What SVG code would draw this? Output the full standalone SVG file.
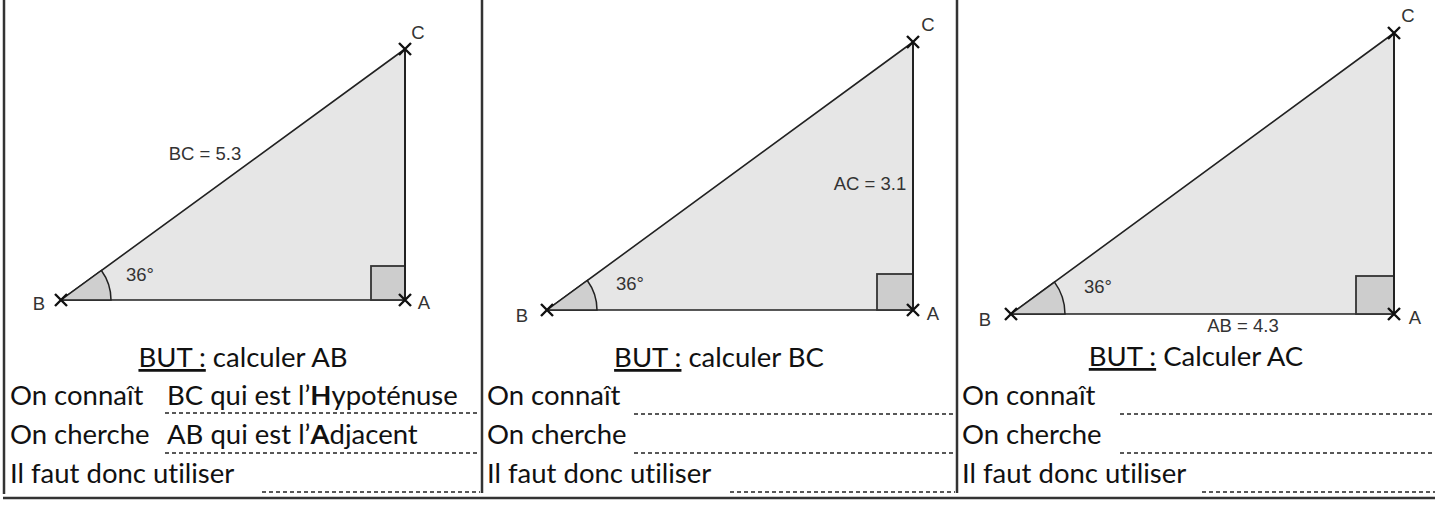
<svg xmlns="http://www.w3.org/2000/svg" width="1435" height="506" viewBox="0 0 1435 506">
<style>
.frame{stroke:#333;stroke-width:2.5;fill:none}
.tri{fill:#e6e6e6;stroke:#222;stroke-width:1.6;stroke-linejoin:round}
.leg{stroke:#222;stroke-width:2;fill:none}
.ang{fill:#cfcfcf;stroke:#222;stroke-width:1.5}
.sq{fill:#cdcdcd;stroke:#333;stroke-width:1.8}
.x{stroke:#111;stroke-width:2.4;fill:none}
.lbl{font-family:"Liberation Sans",Arial,sans-serif;font-size:18.5px;fill:#333}
.t{font-family:Lato,"Open Sans",sans-serif;font-size:27.5px;fill:#111;font-variant-ligatures:none}
.u{text-decoration:underline}
.b{font-weight:bold}
.dash{stroke:#222;stroke-width:1.6;stroke-dasharray:4 3;fill:none}
</style>
<g id="frames">
<line class="frame" x1="4" y1="0" x2="4" y2="494"/>
<line class="frame" x1="482" y1="0" x2="482" y2="493"/>
<line class="frame" x1="957" y1="0" x2="957" y2="493"/>
<line class="frame" x1="3" y1="498" x2="1435" y2="498"/>
</g>
<g id="panel1">
<polygon class="tri" points="61,300 405,300 405,49"/>
<path class="ang" d="M61,300 L111,300 A50,50 0 0 0 101.4,270.5 Z"/>
<rect class="sq" x="371" y="266" width="34" height="34"/>
<line class="leg" x1="405" y1="49" x2="405" y2="300"/>
<path class="x" d="M55,294 L67,306 M55,306 L67,294 M399,294 L411,306 M399,306 L411,294 M399,43 L411,55 M399,55 L411,43"/>
<text class="lbl" x="418" y="38.5" text-anchor="middle">C</text>
<text class="lbl" x="39" y="310" text-anchor="middle">B</text>
<text class="lbl" x="424" y="308.5" text-anchor="middle">A</text>
<text class="lbl" x="205" y="159.5" text-anchor="middle">BC = 5.3</text>
<text class="lbl" x="140" y="280.5" text-anchor="middle">36°</text>
<text class="t" x="243" y="367" text-anchor="middle"><tspan class="u">BUT :</tspan> calculer AB</text>
<text class="t" x="10" y="405">On connaît</text>
<text class="t" x="167" y="405">BC qui est l’<tspan class="b">H</tspan>ypoténuse</text>
<text class="t" x="10" y="444">On cherche</text>
<text class="t" x="167" y="444">AB qui est l’<tspan class="b">A</tspan>djacent</text>
<text class="t" x="10" y="483">Il faut donc utiliser</text>
<line class="dash" x1="165" y1="413" x2="480" y2="413"/>
<line class="dash" x1="165" y1="453" x2="480" y2="453"/>
<line class="dash" x1="262" y1="492" x2="480" y2="492"/>
</g>
<g id="panel2">
<polygon class="tri" points="547,310 913,310 913,42"/>
<path class="ang" d="M547,310 L597,310 A50,50 0 0 0 587.3,280.5 Z"/>
<rect class="sq" x="877" y="274" width="36" height="36"/>
<line class="leg" x1="913" y1="42" x2="913" y2="310"/>
<path class="x" d="M541,304 L553,316 M541,316 L553,304 M907,304 L919,316 M907,316 L919,304 M907,36 L919,48 M907,48 L919,36"/>
<text class="lbl" x="928" y="30.5" text-anchor="middle">C</text>
<text class="lbl" x="522" y="321.5" text-anchor="middle">B</text>
<text class="lbl" x="933" y="319.5" text-anchor="middle">A</text>
<text class="lbl" x="870" y="189.5" text-anchor="middle">AC = 3.1</text>
<text class="lbl" x="630" y="289.5" text-anchor="middle">36°</text>
<text class="t" x="719" y="367" text-anchor="middle"><tspan class="u">BUT :</tspan> calculer BC</text>
<text class="t" x="487" y="405">On connaît</text>
<text class="t" x="487" y="444">On cherche</text>
<text class="t" x="487" y="483">Il faut donc utiliser</text>
<line class="dash" x1="634" y1="414" x2="955" y2="414"/>
<line class="dash" x1="634" y1="453" x2="955" y2="453"/>
<line class="dash" x1="730" y1="492" x2="955" y2="492"/>
</g>
<g id="panel3">
<polygon class="tri" points="1011,314 1394,314 1394,33"/>
<path class="ang" d="M1011,314 L1065,314 A54,54 0 0 0 1054.5,282.1 Z"/>
<rect class="sq" x="1356" y="276" width="38" height="38"/>
<line class="leg" x1="1394" y1="33" x2="1394" y2="314"/>
<path class="x" d="M1005,308 L1017,320 M1005,320 L1017,308 M1388,308 L1400,320 M1388,320 L1400,308 M1388,27 L1400,39 M1388,39 L1400,27"/>
<text class="lbl" x="1408" y="21.5" text-anchor="middle">C</text>
<text class="lbl" x="985" y="325.5" text-anchor="middle">B</text>
<text class="lbl" x="1415" y="323.5" text-anchor="middle">A</text>
<text class="lbl" x="1243" y="331.5" text-anchor="middle">AB = 4.3</text>
<text class="lbl" x="1098" y="292.5" text-anchor="middle">36°</text>
<text class="t" x="1196" y="366" text-anchor="middle"><tspan class="u">BUT :</tspan> Calculer AC</text>
<text class="t" x="962" y="405">On connaît</text>
<text class="t" x="962" y="444">On cherche</text>
<text class="t" x="962" y="483">Il faut donc utiliser</text>
<line class="dash" x1="1120" y1="414" x2="1435" y2="414"/>
<line class="dash" x1="1120" y1="453" x2="1435" y2="453"/>
<line class="dash" x1="1202" y1="492" x2="1435" y2="492"/>
</g>
</svg>
